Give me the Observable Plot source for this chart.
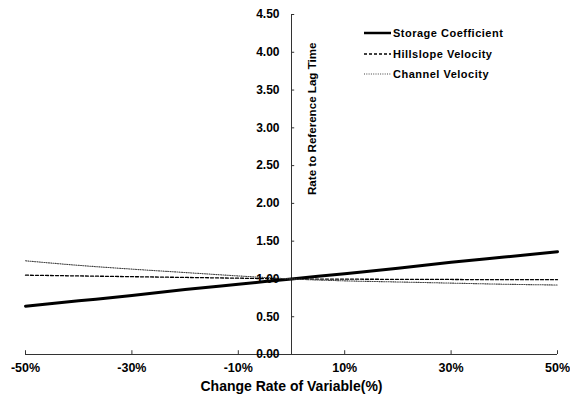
<!DOCTYPE html>
<html>
<head>
<meta charset="utf-8">
<script src="https://cdn.jsdelivr.net/npm/d3@7"></script>
<script src="https://cdn.jsdelivr.net/npm/@observablehq/plot@0.6"></script>
<style>
  html, body { margin: 0; padding: 0; background: #fff; }
  #chart svg { display: block; }
</style>
</head>
<body>
<div id="chart"></div>
<script>
// Data
const changeRate = [-50, -40, -30, -20, -10, 0, 10, 20, 30, 40, 50];
const storageCoefficient = [0.64, 0.71, 0.78, 0.86, 0.93, 1.00, 1.07, 1.14, 1.22, 1.29, 1.36];
const hillslopeVelocity  = [1.05, 1.04, 1.03, 1.02, 1.01, 1.00, 0.997, 0.995, 0.993, 0.99, 0.99];
const channelVelocity    = [1.24, 1.18, 1.13, 1.085, 1.04, 1.00, 0.975, 0.96, 0.945, 0.93, 0.92];
const seriesNames = ["Storage Coefficient", "Hillslope Velocity", "Channel Velocity"];
const xTicks = [-50, -30, -10, 10, 30, 50];
const yTicks = [0, 0.5, 1, 1.5, 2, 2.5, 3, 3.5, 4, 4.5];
const xLabel = "Change Rate of Variable(%)";
const yLabel = "Rate to Reference Lag Time";

const styles = {
  "Storage Coefficient": {stroke: "#000", strokeWidth: 3, dash: null},
  "Hillslope Velocity": {stroke: "#000", strokeWidth: 1.3, dash: "3,2"},
  "Channel Velocity": {stroke: "#444", strokeWidth: 1.1, dash: "1,1.3"}
};

const table = [];
[storageCoefficient, hillslopeVelocity, channelVelocity].forEach((vals, s) => {
  vals.forEach((v, i) => table.push({series: seriesNames[s], x: changeRate[i], y: v}));
});

const font = "'Liberation Sans', Arial, sans-serif";

function legendMark(index, scales, values, dimensions) {
  const g = d3.create("svg:g").attr("text-anchor", "start");
  const x0 = 364, x1 = 391, tx = 393;
  const rows = [33, 54, 74];
  seriesNames.forEach((name, i) => {
    const st = styles[name];
    g.append("line")
      .attr("x1", x0).attr("x2", x1).attr("y1", rows[i]).attr("y2", rows[i])
      .attr("stroke", st.stroke).attr("stroke-width", st.strokeWidth === 3 ? 2.5 : st.strokeWidth)
      .attr("stroke-dasharray", st.dash);
    g.append("text")
      .attr("x", tx).attr("y", rows[i]).attr("dy", "0.35em")
      .attr("text-anchor", "start")
      .attr("font-family", font).attr("font-weight", "bold")
      .attr("font-size", 11).attr("letter-spacing", 0.5)
      .attr("fill", "#000")
      .text(name);
  });
  return g.node();
}

const marks = [
  // axis lines
  Plot.ruleY([0], {stroke: "#333", strokeWidth: 1}),
  Plot.ruleX([0], {stroke: "#333", strokeWidth: 1}),
  // x ticks (pointing up)
  Plot.ruleX(xTicks, {x: d => d, y1: 0, y2: 0.05, stroke: "#333"}),
  // y ticks (pointing right)
  Plot.ruleY(yTicks, {y: d => d, x1: 0, x2: 0.6, stroke: "#333"}),
  // series lines
  ...seriesNames.map(name => Plot.line(table.filter(d => d.series === name), {
    x: "x", y: "y",
    stroke: styles[name].stroke,
    strokeWidth: styles[name].strokeWidth,
    strokeDasharray: styles[name].dash,
    curve: "monotone-x"
  })),
  // y tick labels
  Plot.text(yTicks, {
    x: 0, y: d => d, dx: -12, textAnchor: "end",
    text: d => d.toFixed(2), fontSize: 12, fontWeight: "bold", fill: "#000"
  }),
  // x tick labels
  Plot.text(xTicks, {
    x: d => d, frameAnchor: "bottom", dy: 17,
    text: d => d + "%", fontSize: 12.5, fontWeight: "bold", fill: "#000"
  }),
  // x axis title
  Plot.text([xLabel], {
    frameAnchor: "bottom", dy: 36, text: d => d,
    fontSize: 14, fontWeight: "bold", fill: "#000"
  }),
  // y axis title (rotated, right of the axis)
  Plot.text([yLabel], {
    x: 0, frameAnchor: "top", dx: 16, dy: 28, rotate: -90, textAnchor: "end",
    text: d => d, fontSize: 11.6, fontWeight: "bold", fill: "#000"
  }),
  legendMark
];

const chart = Plot.plot({
  width: 570,
  height: 403,
  marginLeft: 25,
  marginRight: 13,
  marginTop: 14,
  marginBottom: 49,
  style: {fontFamily: font, background: "#fff", color: "#000"},
  x: {domain: [-50, 50], axis: null},
  y: {domain: [0, 4.5], axis: null},
  marks
});
document.getElementById("chart").appendChild(chart);
</script>
</body>
</html>
